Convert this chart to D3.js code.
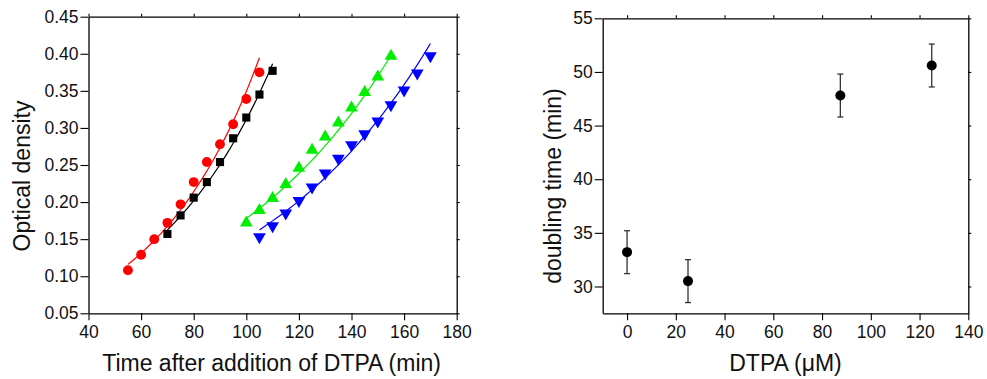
<!DOCTYPE html>
<html>
<head>
<meta charset="utf-8">
<script src="https://cdn.jsdelivr.net/npm/d3@7"></script>
<style>
  body { margin: 0; background: #fff; }
  svg { display: block; font-family: "Liberation Sans", Arial, sans-serif; }
</style>
</head>
<body>
<script>
// ---- data: optical density vs time ----
var redTime = [55, 60, 65, 70, 75, 80, 85, 90, 95, 100, 105];
var redOD   = [0.108, 0.129, 0.150, 0.172, 0.197, 0.227, 0.254, 0.278, 0.305, 0.339, 0.375];
var blackTime = [70, 75, 80, 85, 90, 95, 100, 105, 110];
var blackOD   = [0.157, 0.182, 0.206, 0.227, 0.254, 0.286, 0.314, 0.345, 0.377];
var greenTime = [100, 105, 110, 115, 120, 125, 130, 135, 140, 145, 150, 155];
var greenOD   = [0.172, 0.189, 0.205, 0.224, 0.246, 0.270, 0.288, 0.307, 0.327, 0.348, 0.369, 0.397];
var blueTime = [105, 110, 115, 120, 125, 130, 135, 140, 145, 150, 155, 160, 165, 170];
var blueOD   = [0.153, 0.168, 0.185, 0.202, 0.220, 0.239, 0.259, 0.277, 0.292, 0.309, 0.331, 0.351, 0.374, 0.397];

// exponential fits: start time, end time, OD at start, doubling time (min)
var fitStart    = [55, 70, 100, 105];
var fitEnd      = [105, 110, 155, 170];
var fitOD0      = [0.116, 0.1625, 0.178, 0.1625];
var fitDoubling = [28.3, 32.0, 47.4, 48.2];

// ---- data: doubling time vs DTPA ----
var dtpaConc  = [0, 25, 87.5, 125];
var dblTime   = [33.2, 30.5, 47.8, 50.6];
var dblErr    = [2.0, 2.0, 2.0, 2.0];

var leftXTicks = [40, 60, 80, 100, 120, 140, 160, 180];
var leftYTicks = [0.05, 0.10, 0.15, 0.20, 0.25, 0.30, 0.35, 0.40, 0.45];
var rightXTicks = [0, 20, 40, 60, 80, 100, 120, 140];
var rightYTicks = [30, 35, 40, 45, 50, 55];

var W = 987, H = 379;
var svg = d3.select("body").append("svg").attr("width", W).attr("height", H);

// draws a framed plot with outer ticks and small mirrored ticks
function frame(x, y, xt, yt, xfmt, yfmt) {
  var g = svg.append("g");
  var x0 = x.range()[0], x1 = x.range()[1], y0 = y.range()[0], y1 = y.range()[1];

  g.append("g").attr("transform", "translate(0," + y0 + ")")
    .call(d3.axisBottom(x).tickValues(xt).tickFormat(xfmt).tickSize(7).tickPadding(5).tickSizeOuter(0));
  g.append("g").attr("transform", "translate(" + x0 + ",0)")
    .call(d3.axisLeft(y).tickValues(yt).tickFormat(yfmt).tickSize(8).tickPadding(2).tickSizeOuter(0));
  g.append("g").attr("transform", "translate(0," + y1 + ")")
    .call(d3.axisTop(x).tickValues(xt).tickFormat("").tickSize(3).tickSizeOuter(0));
  g.append("g").attr("transform", "translate(" + x1 + ",0)")
    .call(d3.axisRight(y).tickValues(yt).tickFormat("").tickSize(3).tickSizeOuter(0));

  g.selectAll(".domain").attr("stroke", "#000").attr("stroke-width", 1.3);
  g.selectAll(".tick line").attr("stroke", "#000").attr("stroke-width", 1.1);
  g.selectAll(".tick text").attr("font-size", 17.5).attr("fill", "#111")
    .attr("font-family", "Liberation Sans, Arial, sans-serif");
  return g;
}

// ---------- left panel ----------
var xL = d3.scaleLinear().domain([40, 180]).range([88.5, 456.7]);
var yL = d3.scaleLinear().domain([0.05, 0.45]).range([313.3, 16.7]);
frame(xL, yL, leftXTicks, leftYTicks, d3.format("d"), d3.format(".2f"));

var colors = ["#ff0000", "#000000", "#00ee00", "#0000ff"];

// fit curves
var fitLine = d3.line().x(function(d) { return xL(d[0]); }).y(function(d) { return yL(d[1]); });
for (var i = 0; i < fitStart.length; i++) {
  var pts = [];
  for (var k = 0; k <= 40; k++) {
    var t = fitStart[i] + (fitEnd[i] - fitStart[i]) * k / 40;
    pts.push([t, fitOD0[i] * Math.pow(2, (t - fitStart[i]) / fitDoubling[i])]);
  }
  svg.append("path").attr("d", fitLine(pts)).attr("fill", "none")
    .attr("stroke", colors[i]).attr("stroke-width", 1.2);
}

var series = [
  { t: redTime, od: redOD, sym: d3.symbolCircle, size: 76, rot: 0 },
  { t: blackTime, od: blackOD, sym: d3.symbolSquare, size: 66, rot: 0 },
  { t: greenTime, od: greenOD, sym: d3.symbolTriangle, size: 70, rot: 0 },
  { t: blueTime, od: blueOD, sym: d3.symbolTriangle, size: 70, rot: 180 }
];
series.forEach(function(s, i) {
  svg.append("g").selectAll("path").data(s.t).enter().append("path")
    .attr("d", d3.symbol().type(s.sym).size(s.size))
    .attr("transform", function(d, j) {
      return "translate(" + xL(d) + "," + yL(s.od[j]) + ") rotate(" + s.rot + ")";
    })
    .attr("fill", colors[i]);
});

svg.append("text").attr("x", (88.5 + 456.7) / 2 - 1).attr("y", 371)
  .attr("text-anchor", "middle").attr("font-size", 23).attr("fill", "#111")
  .text("Time after addition of DTPA (min)");
svg.append("text").attr("transform", "translate(30,176) rotate(-90)")
  .attr("text-anchor", "middle").attr("font-size", 23).attr("fill", "#111")
  .text("Optical density");

// ---------- right panel ----------
var xR = d3.scaleLinear().domain([-10, 140]).range([602.7, 968.3]);
var yR = d3.scaleLinear().domain([27.5, 55]).range([313.3, 18.3]);
frame(xR, yR, rightXTicks, rightYTicks, d3.format("d"), d3.format("d"));

var eb = svg.append("g").selectAll("g").data(dtpaConc).enter().append("g");
eb.append("line")
  .attr("x1", function(d) { return xR(d); }).attr("x2", function(d) { return xR(d); })
  .attr("y1", function(d, j) { return yR(dblTime[j] - dblErr[j]); })
  .attr("y2", function(d, j) { return yR(dblTime[j] + dblErr[j]); })
  .attr("stroke", "#333").attr("stroke-width", 1.3);
[-1, 1].forEach(function(sg) {
  eb.append("line")
    .attr("x1", function(d) { return xR(d) - 3; }).attr("x2", function(d) { return xR(d) + 3; })
    .attr("y1", function(d, j) { return yR(dblTime[j] + sg * dblErr[j]); })
    .attr("y2", function(d, j) { return yR(dblTime[j] + sg * dblErr[j]); })
    .attr("stroke", "#333").attr("stroke-width", 1.3);
});
eb.append("circle")
  .attr("cx", function(d) { return xR(d); })
  .attr("cy", function(d, j) { return yR(dblTime[j]); })
  .attr("r", 5).attr("fill", "#000");

var xt = svg.append("text").attr("x", (602.7 + 968.3) / 2).attr("y", 371)
  .attr("text-anchor", "middle").attr("font-size", 23).attr("fill", "#111");
xt.append("tspan").text("DTPA (");
xt.append("tspan").text("\u03bc");
xt.append("tspan").text("M)");
svg.append("text").attr("transform", "translate(561,186) rotate(-90)")
  .attr("text-anchor", "middle").attr("font-size", 23).attr("fill", "#111")
  .text("doubling time (min)");
</script>
</body>
</html>
